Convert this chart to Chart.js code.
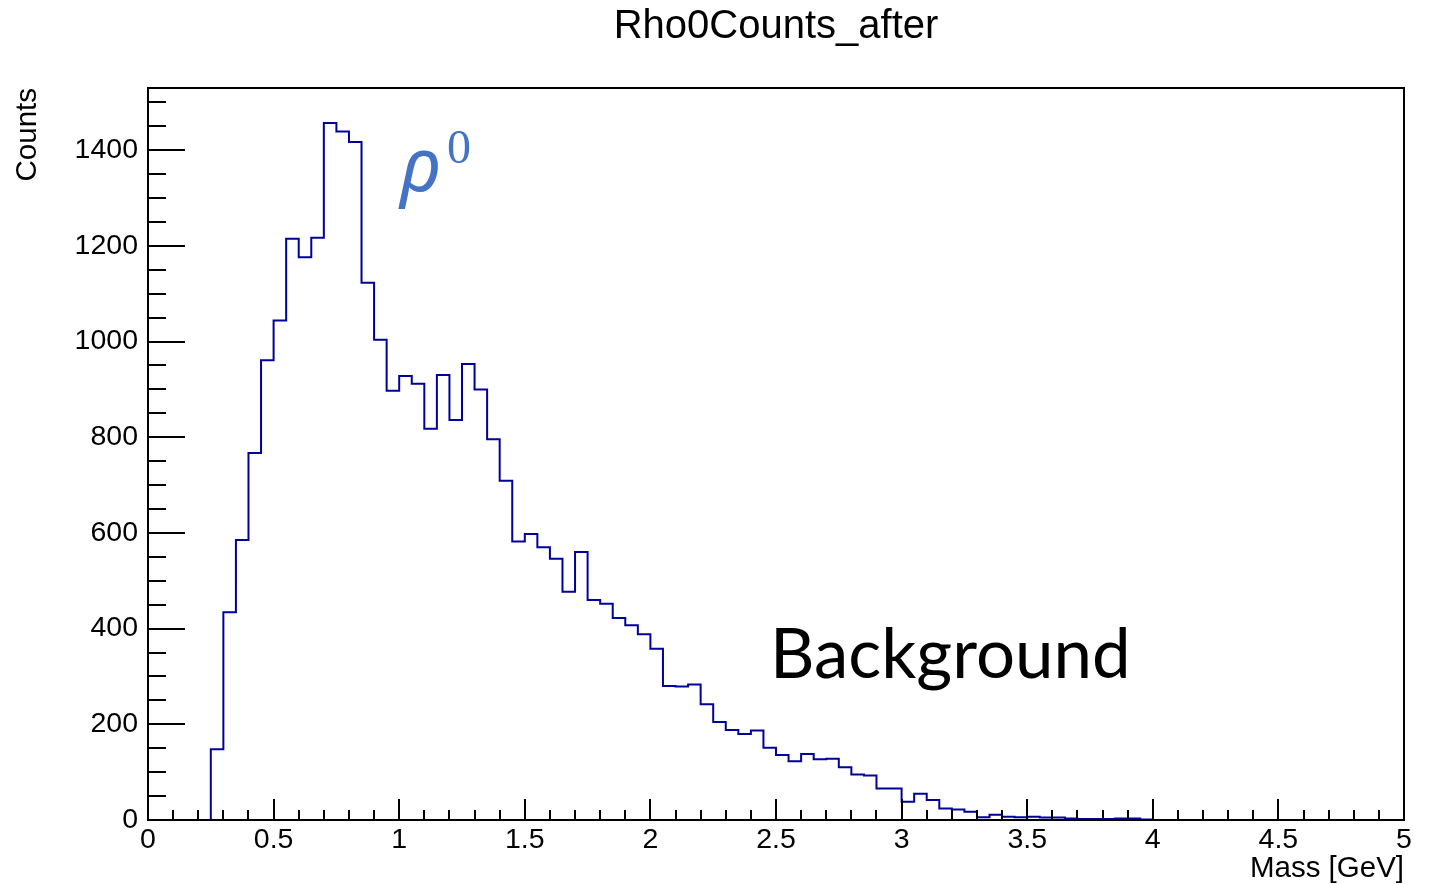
<!DOCTYPE html>
<html><head><meta charset="utf-8">
<script src="https://cdn.jsdelivr.net/npm/chart.js@4.4.1/dist/chart.umd.min.js"></script>
<style>html,body{margin:0;padding:0;background:#fff;}canvas{display:block;}</style>
</head><body>
<canvas id="c" width="1434" height="884"></canvas>
<script>
// ---- data ----
const chartTitle = 'Rho0Counts_after';
const xAxisTitle = 'Mass [GeV]';
const yAxisTitle = 'Counts';
const binLowEdges = [
  0.00,0.05,0.10,0.15,0.20,0.25,0.30,0.35,0.40,0.45,
  0.50,0.55,0.60,0.65,0.70,0.75,0.80,0.85,0.90,0.95,
  1.00,1.05,1.10,1.15,1.20,1.25,1.30,1.35,1.40,1.45,
  1.50,1.55,1.60,1.65,1.70,1.75,1.80,1.85,1.90,1.95,
  2.00,2.05,2.10,2.15,2.20,2.25,2.30,2.35,2.40,2.45,
  2.50,2.55,2.60,2.65,2.70,2.75,2.80,2.85,2.90,2.95,
  3.00,3.05,3.10,3.15,3.20,3.25,3.30,3.35,3.40,3.45,
  3.50,3.55,3.60,3.65,3.70,3.75,3.80,3.85,3.90,3.95,
  4.00,4.05,4.10,4.15,4.20,4.25,4.30,4.35,4.40,4.45,
  4.50,4.55,4.60,4.65,4.70,4.75,4.80,4.85,4.90,4.95
];
const xUpperEdge = 5.0;
const counts = [
  0,0,0,0,0,148,434,585,767,961,
  1044,1215,1176,1217,1457,1439,1417,1123,1004,897,
  928,912,818,930,836,953,900,796,709,582,
  598,570,546,477,560,460,452,422,407,388,
  358,280,279,283,242,205,188,180,187,151,
  136,123,138,127,128,110,95,93,66,66,
  38,55,42,24,22,17,6,11,7,6,
  7,5,5,3,2,2,2,3,3,1,
  0,0,0,0,0,0,0,0,0,0,
  0,0,0,0,0,0,0,0,0,0
];
const xTickValues = [0,0.5,1,1.5,2,2.5,3,3.5,4,4.5,5];
const yTickValues = [0,200,400,600,800,1000,1200,1400];
const yMax = 1530;
const annotations = [
  {text:'\u03C1', x:1.003, y:1315, font:'italic 75px "Noto Sans"', color:'#4472C4'},
  {text:'0', x:1.19, y:1373, font:'48px "Liberation Serif"', color:'#4472C4'},
  {text:'Background', x:2.476, y:297, font:'69px Lato', color:'#000000'}
];

// ---- build ----
const FAMILY = '"Liberation Sans", Arial, Helvetica, sans-serif';
const points = binLowEdges.map((e, i) => ({x: e, y: counts[i]}));
points.push({x: xUpperEdge, y: counts[counts.length - 1]});

const rootAxes = {
  id: 'rootAxes',
  afterDraw(chart) {
    const {ctx, chartArea: {left, right, top, bottom}, scales: {x, y}} = chart;
    ctx.save();
    ctx.strokeStyle = '#000';
    ctx.lineWidth = 2;
    ctx.beginPath();
    for (let v = 0; v <= y.max; v += 50) {
      const py = Math.round(y.getPixelForValue(v));
      const len = (v % 200 === 0) ? 37 : 18;
      ctx.moveTo(left, py); ctx.lineTo(left + len, py);
    }
    for (let k = 0; k <= 50; k++) {
      const px = Math.round(x.getPixelForValue(k / 10));
      const len = (k % 5 === 0) ? 21 : 10;
      ctx.moveTo(px, bottom); ctx.lineTo(px, bottom - len);
    }
    ctx.stroke();
    ctx.strokeRect(left, top, right - left, bottom - top);
    ctx.textBaseline = 'alphabetic';
    ctx.textAlign = 'left';
    annotations.forEach(a => {
      ctx.font = a.font;
      ctx.fillStyle = a.color;
      ctx.fillText(a.text, x.getPixelForValue(a.x), y.getPixelForValue(a.y));
    });
    ctx.restore();
  }
};

new Chart(document.getElementById('c'), {
  type: 'line',
  data: {datasets: [{
    data: points, borderColor: '#00009c', borderWidth: 2, stepped: true,
    pointRadius: 0, fill: false, clip: false, tension: 0
  }]},
  options: {
    responsive: false, animation: false, devicePixelRatio: 1,
    layout: {padding: {left: 0, right: 30, top: 0, bottom: 0}},
    plugins: {
      legend: {display: false}, tooltip: {enabled: false},
      title: {display: true, text: chartTitle, fullSize: false, color: '#000',
        font: {family: FAMILY, size: 40, weight: 'normal', lineHeight: 1},
        padding: {top: 7, bottom: 41}}
    },
    scales: {
      x: {
        type: 'linear', min: 0, max: xUpperEdge,
        afterBuildTicks: s => { s.ticks = xTickValues.map(v => ({value: v})); },
        afterFit: s => { s.height = 64; },
        grid: {display: false, drawTicks: false}, border: {display: false},
        ticks: {font: {family: FAMILY, size: 28.5, lineHeight: 1.2}, color: '#000', padding: 3,
          maxRotation: 0, autoSkip: false, callback: v => String(v)},
        title: {display: true, text: xAxisTitle, align: 'end', color: '#000',
          font: {family: FAMILY, size: 29.5, lineHeight: 1}, padding: {top: 0, bottom: 0}}
      },
      y: {
        type: 'linear', min: 0, max: yMax,
        afterBuildTicks: s => { s.ticks = yTickValues.map(v => ({value: v})); },
        afterFit: s => { s.width = 148; },
        grid: {display: false, drawTicks: false}, border: {display: false},
        ticks: {font: {family: FAMILY, size: 28.5, lineHeight: 1.2}, color: '#000', padding: 10,
          autoSkip: false, callback: v => String(v)},
        title: {display: true, text: yAxisTitle, align: 'end', color: '#000',
          font: {family: FAMILY, size: 29.5, lineHeight: 1}, padding: {top: 13, bottom: 0}}
      }
    }
  },
  plugins: [rootAxes]
});
</script>
</body></html>
